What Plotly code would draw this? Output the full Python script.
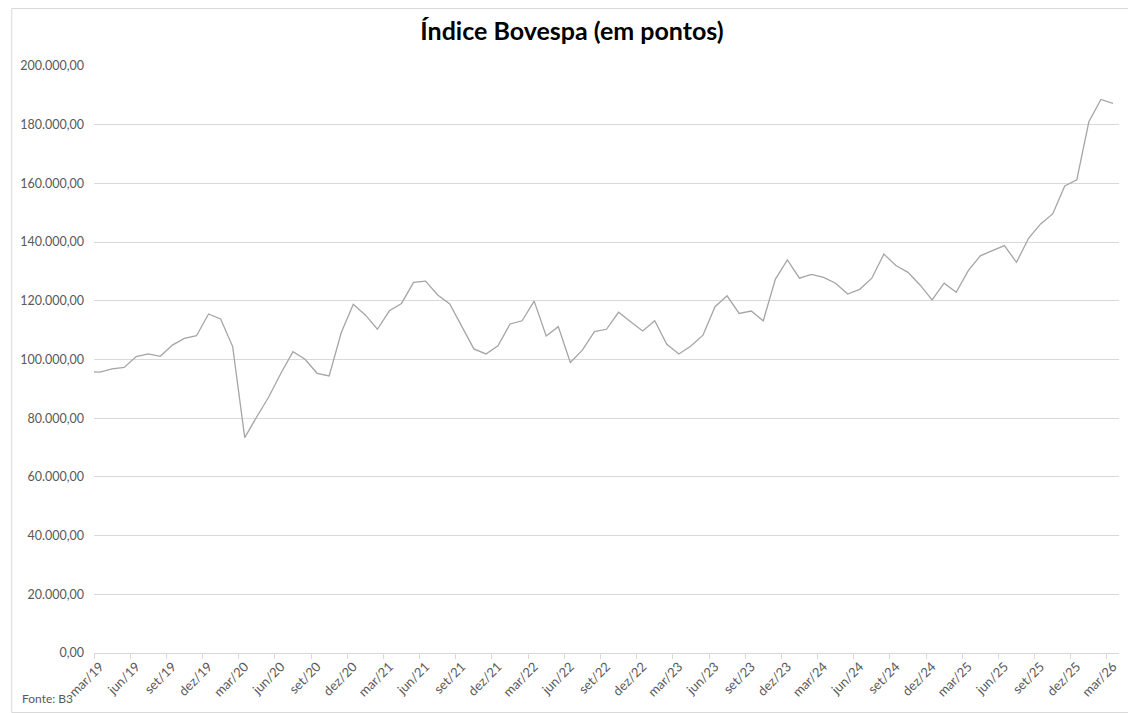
import plotly.graph_objects as go

# Month labels (feb/19 is just outside the visible axis range; line is clipped there)
months = ["fev/19",
          "mar/19", "abr/19", "mai/19", "jun/19", "jul/19", "ago/19", "set/19", "out/19", "nov/19", "dez/19",
          "jan/20", "fev/20", "mar/20", "abr/20", "mai/20", "jun/20", "jul/20", "ago/20", "set/20", "out/20", "nov/20", "dez/20",
          "jan/21", "fev/21", "mar/21", "abr/21", "mai/21", "jun/21", "jul/21", "ago/21", "set/21", "out/21", "nov/21", "dez/21",
          "jan/22", "fev/22", "mar/22", "abr/22", "mai/22", "jun/22", "jul/22", "ago/22", "set/22", "out/22", "nov/22", "dez/22",
          "jan/23", "fev/23", "mar/23", "abr/23", "mai/23", "jun/23", "jul/23", "ago/23", "set/23", "out/23", "nov/23", "dez/23",
          "jan/24", "fev/24", "mar/24", "abr/24", "mai/24", "jun/24", "jul/24", "ago/24", "set/24", "out/24", "nov/24", "dez/24",
          "jan/25", "fev/25", "mar/25", "abr/25", "mai/25", "jun/25", "jul/25", "ago/25", "set/25", "out/25", "nov/25", "dez/25",
          "jan/26", "fev/26", "mar/26"]

ibov = [95900,
        95700, 96800, 97300, 101000, 101900, 101100, 104900, 107200, 108100, 115500,
        113800, 104400, 73400, 80500, 87300, 95300, 102700, 100100, 95300, 94400, 109100, 118800,
        115200, 110300, 116600, 119100, 126300, 126700, 122000, 118900, 111200, 103600, 101900, 104700,
        112100, 113200, 119900, 108000, 111200, 99000, 103200, 109500, 110300, 116100, 112900, 109700,
        113200, 105200, 101900, 104600, 108300, 118000, 121700, 115700, 116500, 113200, 127300, 133900,
        127700, 129000, 128000, 126000, 122300, 123900, 127700, 135900, 132000, 129700, 125400, 120300,
        126000, 122900, 130300, 135300, 137100, 138800, 133100, 141300, 146200, 149600, 159100, 161200,
        181000, 188600, 187300]

x_idx = list(range(-1, len(months) - 1))   # mar/19 -> 0
label_idx = [i for i in range(0, 85, 3)]
label_txt = [months[i + 1] for i in label_idx]
boundary_ticks = [i - 0.5 for i in range(0, 86, 3)]

y_ticks = list(range(0, 200001, 20000))

GRAY_TXT = "#595959"
GRID = "#d9d9d9"
FONT = "Lato, Liberation Sans, sans-serif"

W, H = 1128, 705
ML, MR, MT, MB = 83, 17, 58, 60
PW, PH = W - ML - MR, H - MT - MB

def px_x(fx):
    return (fx - ML) / PW

def px_y(fy):
    return (H - MB - fy) / PH

fig = go.Figure()
fig.add_trace(go.Scatter(
    x=x_idx, y=ibov, mode="lines",
    line=dict(color="#a5a5a5", width=1.3),
    hoverinfo="skip", showlegend=False,
))

fig.update_layout(
    width=W, height=H,
    paper_bgcolor="white", plot_bgcolor="white",
    separators=",.",
    margin=dict(l=ML, r=MR, t=MT, b=MB),
    title=dict(text="<b>Índice Bovespa (em pontos)</b>", x=0.5, xanchor="center",
               y=1 - 23 / H, yanchor="middle",
               font=dict(family=FONT, size=25, color="#000000")),
    font=dict(family=FONT, size=12, color=GRAY_TXT),
    xaxis=dict(
        range=[-0.5, 84.5],
        tickmode="array", tickvals=label_idx, ticktext=label_txt,
        tickangle=-45, ticks="", ticklen=0,
        tickfont=dict(family=FONT, size=13, color=GRAY_TXT),
        showgrid=False, zeroline=False,
        showline=True, linecolor=GRID, linewidth=1,
        minor=dict(tickmode="array", tickvals=boundary_ticks, ticks="outside",
                   ticklen=5, tickcolor=GRID, tickwidth=1, showgrid=False),
    ),
    yaxis=dict(
        range=[0, 200000],
        tickmode="array", tickvals=y_ticks, tickformat=",.2f",
        tickfont=dict(family=FONT, size=12.5, color=GRAY_TXT),
        ticklabelstandoff=9,
        showgrid=True, gridcolor=GRID, gridwidth=1,
        zeroline=False, showline=False, ticks="",
    ),
    annotations=[dict(text="Fonte: B3", xref="paper", yref="paper",
                      x=px_x(9), y=px_y(690), xanchor="left", yanchor="middle",
                      showarrow=False, font=dict(family=FONT, size=12, color=GRAY_TXT))],
    shapes=[dict(type="rect", xref="paper", yref="paper",
                 x0=px_x(0.5), x1=px_x(W + 5), y0=px_y(H - 0.5), y1=px_y(0.5),
                 line=dict(color="#d9d9d9", width=1), fillcolor="rgba(0,0,0,0)", layer="below")],
)

fig.write_html("out.html")
